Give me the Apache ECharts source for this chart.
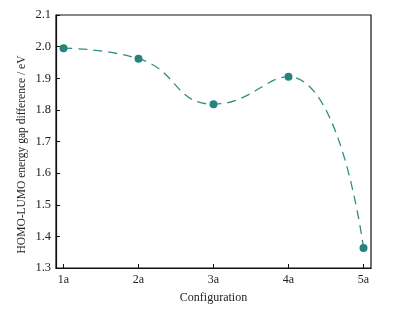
<!DOCTYPE html>
<html>
<head>
<meta charset="utf-8">
<script src="https://cdn.jsdelivr.net/npm/echarts@6/dist/echarts.min.js"></script>
<style>
    html, body { margin: 0; padding: 0; background: #fff; }
    #chart { width: 400px; height: 312px; }
</style>
</head>
<body>
<div id="chart"></div>
<script>
    // configurations on the x axis and their HOMO-LUMO gap difference (eV)
    var configs = ['1a', '2a', '3a', '4a', '5a'];
    var gapValues = [1.995, 1.962, 1.818, 1.905, 1.363];
    var yTicks = [1.3, 1.4, 1.5, 1.6, 1.7, 1.8, 1.9, 2.0, 2.1];

    var pointData = [];
    for (var i = 0; i < configs.length; i++) {
        pointData.push([i + 1, gapValues[i]]);
    }
    var xPositions = [];
    for (var k = 0; k < configs.length; k++) {
        xPositions.push(k + 1);
    }

    var teal = '#25847f';
    var font = 'Liberation Serif';

    var option = {
        animation: false,
        grid: {
            left: 56,
            right: 29,
            top: 15,
            bottom: 44,
            show: true,
            borderColor: '#111',
            borderWidth: 1.2
        },
        xAxis: {
            type: 'value',
            min: 0.9,
            max: 5.1,
            name: 'Configuration',
            nameLocation: 'middle',
            nameGap: 24,
            nameTextStyle: { fontFamily: font, fontSize: 12, color: '#222' },
            splitLine: { show: false },
            axisLine: { lineStyle: { color: '#111', width: 1.2 } },
            axisTick: { inside: true, length: 4, customValues: xPositions, lineStyle: { color: '#111' } },
            axisLabel: {
                customValues: xPositions,
                fontFamily: font,
                fontSize: 12,
                color: '#222',
                margin: 6,
                formatter: function (v) { return configs[Math.round(v) - 1]; }
            }
        },
        yAxis: {
            type: 'value',
            min: 1.3,
            max: 2.1,
            name: 'HOMO-LUMO energy gap difference / eV',
            nameLocation: 'middle',
            nameGap: 28,
            nameMoveOverlap: false,
            nameTextStyle: { fontFamily: font, fontSize: 11.5, color: '#222', padding: [0, 0, 0, -26] },
            splitLine: { show: false },
            axisLine: { show: true, lineStyle: { color: '#111', width: 1.2 } },
            axisTick: { inside: true, length: 4, customValues: yTicks, lineStyle: { color: '#111' } },
            axisLabel: {
                customValues: yTicks,
                fontFamily: font,
                fontSize: 12.5,
                color: '#222',
                margin: 5,
                formatter: function (v) { return v.toFixed(1); }
            }
        },
        series: [{
            type: 'line',
            data: pointData,
            smooth: 0.5,
            symbol: 'circle',
            symbolSize: 8,
            itemStyle: { color: teal },
            lineStyle: { color: '#2f8d88', width: 1.3, type: [9, 6] }
        }]
    };

    var myChart = echarts.init(document.getElementById('chart'));
    myChart.setOption(option);
</script>
</body>
</html>
